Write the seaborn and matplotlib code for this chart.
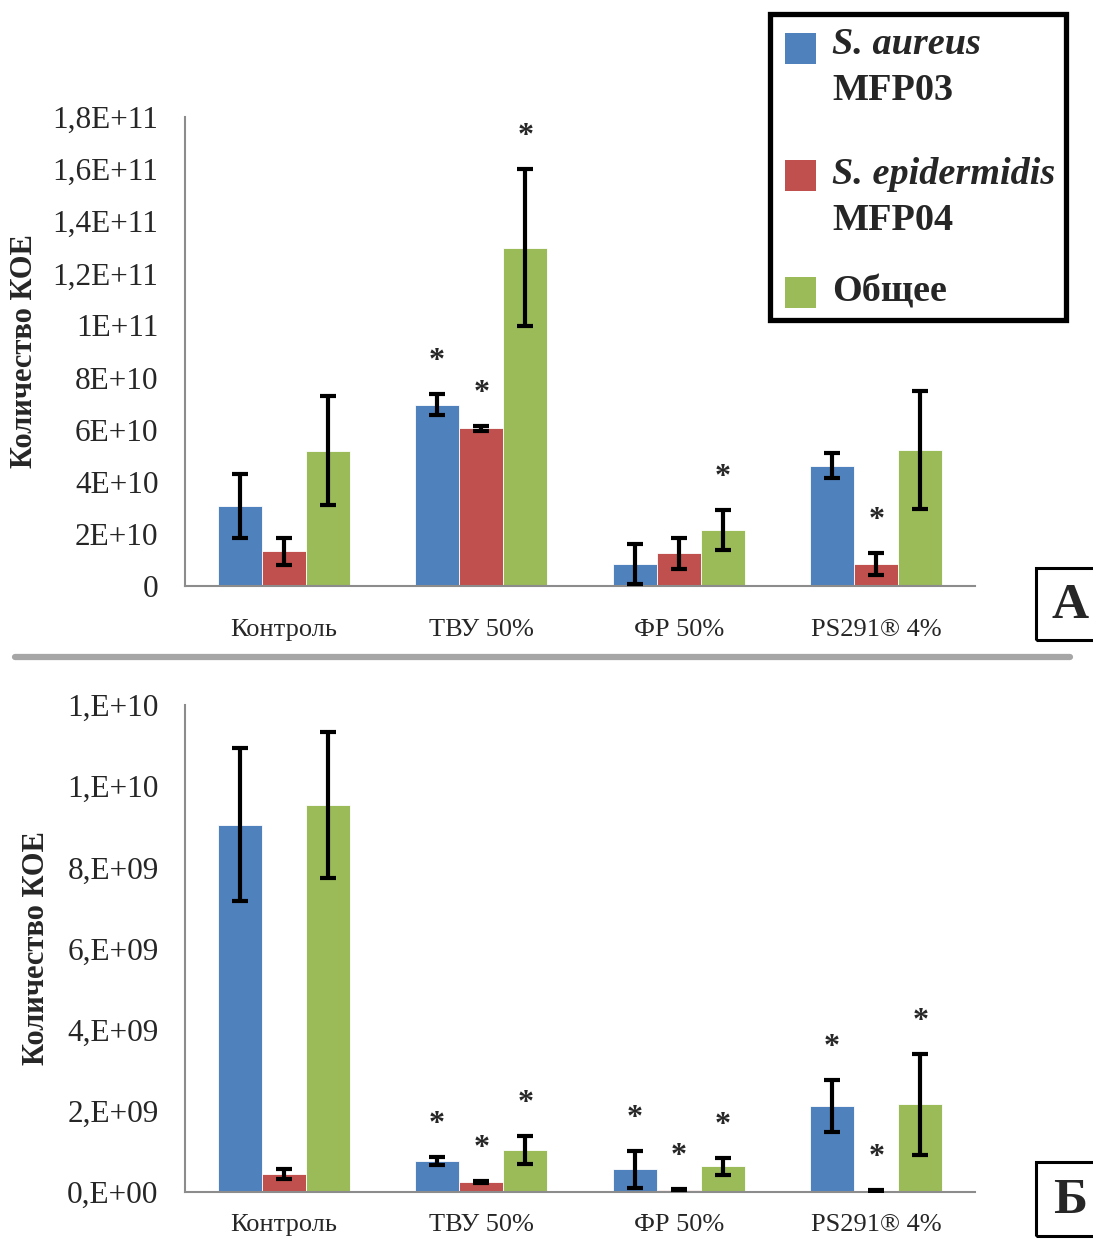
import numpy as np
import pandas as pd
import matplotlib
matplotlib.use("Agg")
import matplotlib.pyplot as plt
from matplotlib.patches import Rectangle
from matplotlib.lines import Line2D
import seaborn as sns

# categories and strains
categories = ["Контроль", "ТВУ 50%", "ФР 50%", "PS291® 4%"]
strains = ["S. aureus MFP03", "S. epidermidis MFP04", "Общее"]
colors = ["#4F81BD", "#C0504D", "#9BBB59"]

# panel A values (CFU)
a_aureus = [3.06e10, 6.95e10, 0.84e10, 4.62e10]
a_aureus_err = [1.22e10, 0.40e10, 0.78e10, 0.48e10]
a_epid = [1.33e10, 6.05e10, 1.25e10, 0.84e10]
a_epid_err = [0.53e10, 0.09e10, 0.58e10, 0.43e10]
a_total = [5.20e10, 12.98e10, 2.14e10, 5.22e10]
a_total_err = [2.08e10, 3.02e10, 0.77e10, 2.26e10]
a_stars = [[0, 1, 0, 0], [0, 1, 0, 1], [0, 1, 1, 0]]

# panel B values (CFU)
b_aureus = [9.05e9, 0.77e9, 0.56e9, 2.12e9]
b_aureus_err = [1.89e9, 0.10e9, 0.45e9, 0.64e9]
b_epid = [0.44e9, 0.24e9, 0.06e9, 0.03e9]
b_epid_err = [0.13e9, 0.03e9, 0.02e9, 0.01e9]
b_total = [9.53e9, 1.04e9, 0.63e9, 2.16e9]
b_total_err = [1.80e9, 0.35e9, 0.21e9, 1.24e9]
b_stars = [[0, 1, 1, 1], [0, 1, 1, 1], [0, 1, 1, 1]]

a_ticks = np.arange(0, 1.81e11, 2e10)
a_ticklabels = ["0", "2E+10", "4E+10", "6E+10", "8E+10", "1E+11",
                "1,2E+11", "1,4E+11", "1,6E+11", "1,8E+11"]
b_ticks = np.arange(0, 1.21e10, 2e9)
b_ticklabels = ["0,E+00", "2,E+09", "4,E+09", "6,E+09", "8,E+09",
                "1,E+10", "1,E+10"]

sns.set_style("white")
plt.rcParams["font.family"] = ["Liberation Serif", "DejaVu Serif"]

W, H = 1093, 1244
fig = plt.figure(figsize=(W / 100, H / 100), dpi=100)
axis_grey = "#8C8C8C"


def draw_panel(ax, vals, errs, stars, ylim, ticks, ticklabels, label_x, xpad):
    df = pd.DataFrame({
        "cond": categories * 3,
        "strain": [s for s in strains for _ in categories],
        "value": [v for series in vals for v in series],
    })
    sns.barplot(data=df, x="cond", y="value", hue="strain", palette=colors,
                width=0.67, errorbar=None, saturation=1, legend=False,
                edgecolor="white", linewidth=0.6, ax=ax)
    for cont, err, star in zip(ax.containers, errs, stars):
        xs = [p.get_x() + p.get_width() / 2 for p in cont.patches]
        hs = [p.get_height() for p in cont.patches]
        ax.errorbar(xs, hs, yerr=err, fmt="none", ecolor="black",
                    elinewidth=3, capsize=6, capthick=3, zorder=5)
        for x, h, e, s in zip(xs, hs, err, star):
            if s:
                ax.annotate("*", (x, h + e), xytext=(0, 13),
                            textcoords="offset points", ha="center",
                            va="bottom", fontsize=23, fontweight="bold",
                            zorder=6)
    ax.set_xlim(-0.5, 3.5)
    ax.set_ylim(*ylim)
    ax.set_yticks(ticks)
    ax.set_yticklabels(ticklabels, fontsize=22.5)
    ax.set_xticks(range(len(categories)))
    ax.set_xticklabels(categories, fontsize=19)
    ax.set_xticks(np.arange(-0.5, 4, 1), minor=True)
    ax.tick_params(axis="x", which="major", length=0, pad=xpad)
    ax.tick_params(axis="x", which="minor", length=7, width=1.5,
                   color=axis_grey, direction="out")
    ax.tick_params(axis="y", length=7, width=1.5, color=axis_grey,
                   direction="out", pad=12)
    ax.set_xlabel("")
    ax.set_ylabel("Количество КОЕ", fontsize=22, fontweight="bold")
    ax.yaxis.set_label_coords(label_x, 0.5)
    sns.despine(ax=ax)
    for side in ["left", "bottom"]:
        ax.spines[side].set_color(axis_grey)
        ax.spines[side].set_linewidth(1.5)


ax1 = fig.add_axes([185 / W, 1 - 586 / H, 790 / W, 469 / H])
draw_panel(ax1, [a_aureus, a_epid, a_total],
           [a_aureus_err, a_epid_err, a_total_err], a_stars,
           (0, 1.8e11), a_ticks, a_ticklabels, -0.185, 24)

ax2 = fig.add_axes([185 / W, 1 - 1192 / H, 790 / W, 487 / H])
draw_panel(ax2, [b_aureus, b_epid, b_total],
           [b_aureus_err, b_epid_err, b_total_err], b_stars,
           (0, 1.2e10), b_ticks, b_ticklabels, -0.170, 16)


def px(x, y):
    return x / W, 1 - y / H


# legend box
fig.patches.append(Rectangle(px(770, 320), 296 / W, 306 / H, fill=False,
                             lw=3.8, edgecolor="black",
                             transform=fig.transFigure))
legend_rows = [
    (colors[0], 33, [("S. aureus", 45, "italic"), ("MFP03", 90, "normal")]),
    (colors[1], 160, [("S. epidermidis", 175, "italic"), ("MFP04", 220, "normal")]),
    (colors[2], 277, [("Общее", 292, "normal")]),
]
for col, sq_top, lines in legend_rows:
    fig.patches.append(Rectangle(px(785, sq_top + 31), 31 / W, 31 / H,
                                 facecolor=col, edgecolor="none",
                                 transform=fig.transFigure))
    for txt, yc, style in lines:
        fig.text(*px(832, yc), txt, fontsize=27.5, fontweight="bold",
                 fontstyle=style, ha="left", va="center")

# separator line between panels
fig.lines.append(Line2D([15 / W, 1070 / W], [1 - 657 / H, 1 - 657 / H],
                        color="#A6A6A6", lw=4.5, transform=fig.transFigure))

# panel letters
for letter, top, bottom in [("А", 568, 640), ("Б", 1162, 1236)]:
    fig.patches.append(Rectangle(px(1036, bottom), 70 / W, (bottom - top) / H,
                                 fill=False, lw=2.2, edgecolor="black",
                                 transform=fig.transFigure))
    fig.text(*px(1070, (top + bottom) / 2 + 2), letter, fontsize=37,
             fontweight="bold", ha="center", va="center")

fig.savefig("out.png", dpi=100)
